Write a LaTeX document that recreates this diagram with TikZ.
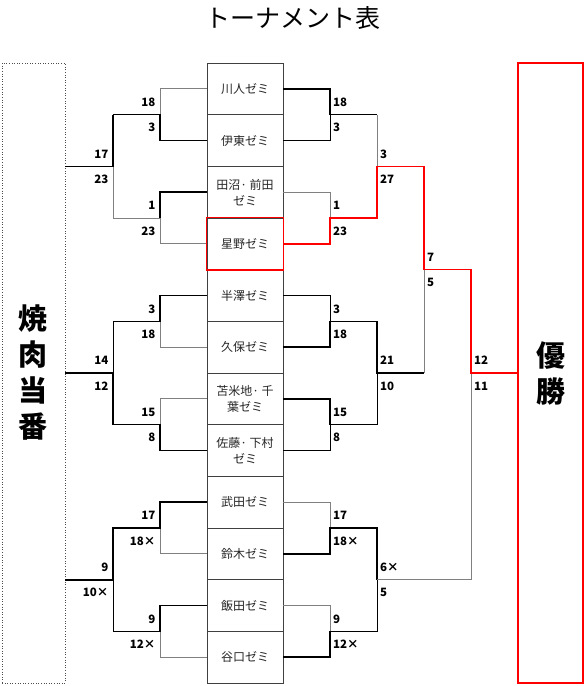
\documentclass[tikz,border=0pt]{standalone}
\usepackage{fontspec}
\setmainfont{Noto Sans CJK JP}
\usetikzlibrary{positioning}
\definecolor{lgray}{gray}{0.5}

\begin{document}
\begin{tikzpicture}[x=1pt, y=-1pt,
  zemi/.style={draw=black!75, line width=0.7pt, minimum width=76pt,
    minimum height=51.67pt, inner sep=0pt, align=center, text=black!85,
    font=\fontsize{12}{16}\selectfont},
  side/.style={minimum height=620pt, inner sep=0pt, align=center,
    font=\fontsize{29}{36}\selectfont\bfseries},
  lose/.style={draw=lgray, line width=0.75pt},
  dim/.style={draw=black, line width=0.75pt},
  win/.style={draw=black, line width=1.6pt},
  hoshi/.style={draw=red, line width=1.4pt},
  score/.style={inner sep=0pt, text height=8pt, text depth=0pt,
    font=\fontsize{11.5}{11.5}\selectfont\bfseries}]
  \useasboundingbox (0,0) rectangle (585,686);

  % --- title and side boxes ----------------------------------------------
  \node (title) at (293,18) {\fontsize{25}{25}\selectfont トーナメント表};
  \node[side, draw=black!70, dotted, line width=0.6pt, minimum width=63pt]
    (yaki) at (33.5,373) {焼\\肉\\当\\番};
  \node[side, draw=red, line width=1.3pt, minimum width=65pt]
    (yusho) at (550.5,373) {優\\勝};

  % --- seminars ------------------------------------------------------------
  \foreach \t [count=\i] in {川人ゼミ, 伊東ゼミ, {田沼· 前田\\ゼミ}, 星野ゼミ,
      半澤ゼミ, 久保ゼミ, {苫米地· 千\\葉ゼミ}, {佐藤· 下村\\ゼミ},
      武田ゼミ, 鈴木ゼミ, 飯田ゼミ, 谷口ゼミ}
    \node[zemi] (z\i) at (245,{63+51.67*(\i-0.5)}) {\t};

  % --- junctions -----------------------------------------------------------
  \foreach \k in {1,...,6} {
    \coordinate (lj\k) at (160,{63+51.67*(2*\k-1)});
    \coordinate (rj\k) at (330,{63+51.67*(2*\k-1)});
  }
  \foreach \k in {1,2,3} {
    \coordinate (lk\k) at (113,{63+51.67*(4*\k-2)});
    \coordinate (rk\k) at (377,{63+51.67*(4*\k-2)});
  }
  \coordinate (rm) at (424,{63+51.67*4});
  \coordinate (fin) at (471,{63+51.67*6});

  % --- left side (焼肉当番) ---------------------------------------------------
  \draw[lose] (z1.west) -- (z1.west -| lj1) -- (lj1);
  \draw[win] (z2.west) -- (z2.west -| lj1) -- (lj1) -- (lj1 -| lk1);
  \draw[lose] (z4.west) -- (z4.west -| lj2) -- (lj2) -- (lj2 -| lk1) -- (lk1);
  \draw[win] (z3.west) -- (z3.west -| lj2) -- (lj2);
  \draw[win] (lj1 -| lk1) -- (lk1) -- (yaki.east |- lk1);

  \draw[lose] (z6.west) -- (z6.west -| lj3) -- (lj3);
  \draw[win] (z5.west) -- (z5.west -| lj3) -- (lj3) -- (lj3 -| lk2);
  \draw[dim] (lj3 -| lk2) -- (lk2);
  \draw[lose] (z7.west) -- (z7.west -| lj4) -- (lj4);
  \draw[win] (z8.west) -- (z8.west -| lj4) -- (lj4) -- (lj4 -| lk2) -- (lk2)
    -- (yaki.east |- lk2);

  \draw[lose] (z10.west) -- (z10.west -| lj5) -- (lj5);
  \draw[win] (z9.west) -- (z9.west -| lj5) -- (lj5) -- (lj5 -| lk3) -- (lk3)
    -- (yaki.east |- lk3);
  \draw[lose] (z12.west) -- (z12.west -| lj6) -- (lj6);
  \draw[dim] (lk3) -- (lj6 -| lk3);
  \draw[win] (z11.west) -- (z11.west -| lj6) -- (lj6) -- (lj6 -| lk3);

  % --- right side (優勝) -------------------------------------------------------
  \draw[dim] (z2.east) -- (z2.east -| rj1) -- (rj1);
  \draw[win] (z1.east) -- (z1.east -| rj1) -- (rj1) -- (rj1 -| rk1);
  \draw[lose] (rj1 -| rk1) -- (rk1);
  \draw[lose] (z3.east) -- (z3.east -| rj2) -- (rj2);

  \draw[dim] (z5.east) -- (z5.east -| rj3) -- (rj3);
  \draw[win] (z6.east) -- (z6.east -| rj3) -- (rj3) -- (rj3 -| rk2) -- (rk2)
    -- (rk2 -| rm);
  \draw[dim] (z8.east) -- (z8.east -| rj4) -- (rj4);
  \draw[dim] (rk2) -- (rj4 -| rk2);
  \draw[win] (z7.east) -- (z7.east -| rj4) -- (rj4) -- (rj4 -| rk2);
  \draw[lose] (rm) -- (rk2 -| rm);

  \draw[lose] (z9.east) -- (z9.east -| rj5) -- (rj5);
  \draw[win] (z10.east) -- (z10.east -| rj5) -- (rj5) -- (rj5 -| rk3) -- (rk3);
  \draw[lose] (z11.east) -- (z11.east -| rj6) -- (rj6);
  \draw[dim] (rk3) -- (rj6 -| rk3) -- (rj6);
  \draw[win] (z12.east) -- (z12.east -| rj6) -- (rj6);
  \draw[lose] (rk3) -- (rk3 -| fin) -- (fin);

  % winner path
  \draw[hoshi] (z4.east) -- (z4.east -| rj2) -- (rj2) -- (rj2 -| rk1) -- (rk1)
    -- (rk1 -| rm) -- (rm) -- (rm -| fin) -- (fin) -- (yusho.west |- fin);
  \draw[hoshi] (z4.north west) rectangle (z4.south east);

  % --- scores ----------------------------------------------------------------
  \foreach \j/\a/\b in {lj1/18/3, lj2/1/23, lj3/3/18, lj4/15/8, lj5/17/18×,
      lj6/9/12×, lk1/17/23, lk2/14/12, lk3/9/10×} {
    \node[score, above left=8pt and 4.5pt of \j] (\j a) {\a};
    \node[score, below left=9pt and 4.5pt of \j] (\j b) {\b};
  }
  \foreach \j/\a/\b in {rj1/18/3, rj2/1/23, rj3/3/18, rj4/15/8, rj5/17/18×,
      rj6/9/12×, rk1/3/27, rk2/21/10, rk3/6×/5, rm/7/5, fin/12/11} {
    \node[score, above right=8pt and 3pt of \j] (\j a) {\a};
    \node[score, below right=9pt and 3pt of \j] (\j b) {\b};
  }
\end{tikzpicture}
\end{document}
